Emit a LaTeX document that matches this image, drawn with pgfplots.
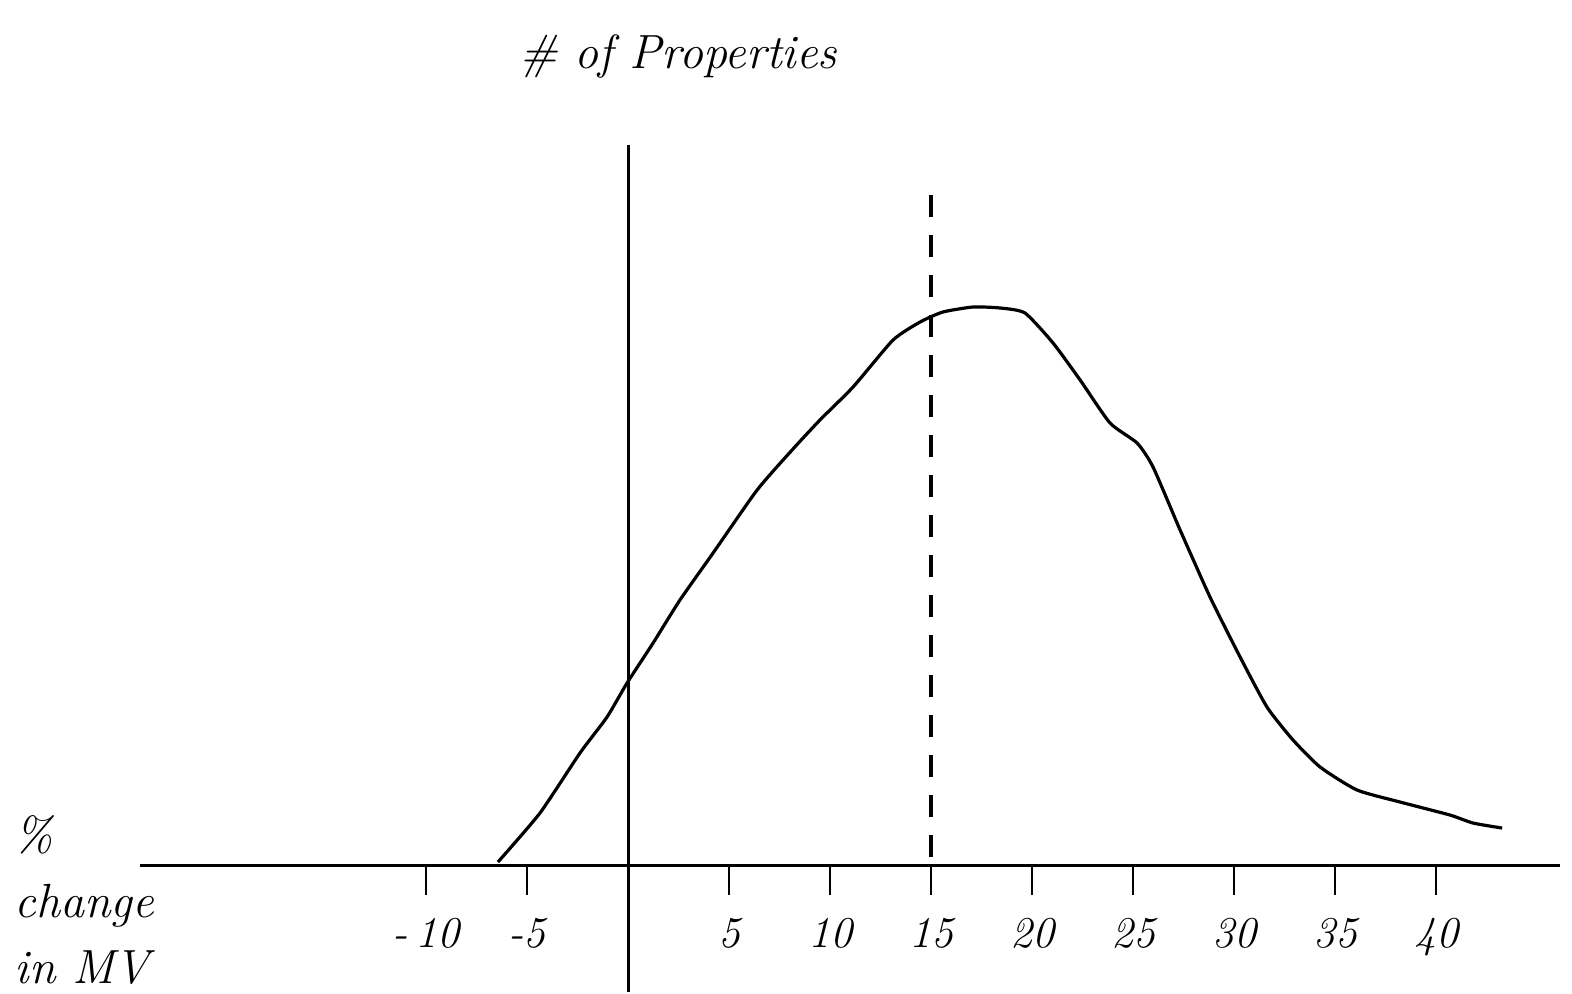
\documentclass[border=0pt]{standalone}
\usepackage{pgfplots}
\pgfplotsset{compat=1.18}
\begin{document}
\begin{tikzpicture}
\begin{axis}[
  scale only axis,
  width=710pt, height=423.5pt,
  xmin=-24.16, xmax=46.14,
  ymin=-12.7, ymax=72,
  axis x line=middle, axis y line=middle,
  axis line style={-, line width=1.5pt, black},
  xtick={-10,-5,5,10,15,20,25,30,35,40},
  xticklabels={-\,10,-5,5,10,15,20,25,30,35,40},
  ytick=\empty,
  tick align=outside,
  major tick length=15pt,
  tick style={line width=1.4pt, black},
  xticklabel style={font=\fontsize{22}{26}\selectfont\itshape, anchor=north, yshift=-8pt},
  clip=false,
]
\path (axis cs:-31.09,-12.7) rectangle (axis cs:46.73,86.5);
\addplot[black, line width=1.6pt, smooth, tension=0.35] coordinates {
(-6.44,0.3) (-4.36,5.2) (-2.38,11.2) (-1.04,14.8) (-0.05,18.2) (1.24,22.2)
(2.57,26.5) (4.21,31.2) (6.39,37.5) (8.12,41.5) (9.50,44.5) (11.14,47.8)
(13.12,52.5) (14.46,54.3) (15.59,55.3) (17.08,55.8) (18.42,55.7) (19.65,55.2)
(21.04,52.2) (22.38,48.5) (23.86,44.2) (25.20,42.2) (25.99,39.8) (27.33,33.5)
(28.81,26.8) (30.30,20.8) (31.63,15.8) (32.92,12.5) (34.26,9.8) (36.09,7.5)
(38.22,6.3) (40.69,5.0) (41.83,4.2) (43.27,3.7)
};
\addplot[black, line width=1.6pt, dash pattern=on 11pt off 9pt] coordinates {(15,67) (15,0)};
\node[font=\fontsize{24}{28}\selectfont\itshape] at (axis cs:2.48,80.8) {\# of Properties};
\node[font=\fontsize{24}{33}\selectfont\itshape, align=left, anchor=north west] at (axis cs:-30.7,5.7) {\%\\change\\in MV};
\end{axis}
\end{tikzpicture}
\end{document}
